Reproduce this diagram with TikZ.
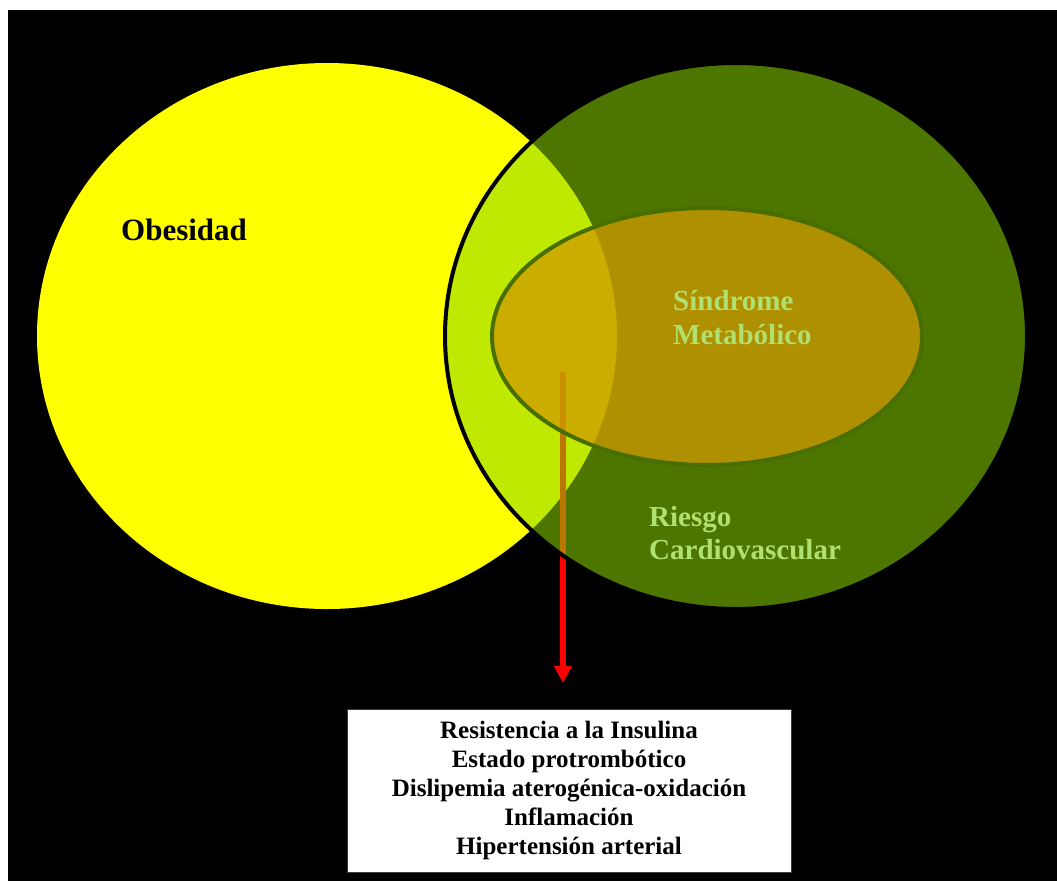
\documentclass[tikz,border=0pt]{standalone}
\usepackage{fontspec}
\setmainfont{Liberation Serif}
\usetikzlibrary{arrows.meta}
\definecolor{bgblack}{RGB}{0,0,0}
\definecolor{obyellow}{RGB}{255,255,0}
\definecolor{riskgreen}{RGB}{140,215,0}
\definecolor{smorange}{RGB}{208,154,0}
\definecolor{smline}{RGB}{72,110,0}
\definecolor{labgreen}{RGB}{176,224,112}
\definecolor{arrowred}{RGB}{255,0,0}
\tikzset{
  bigtext/.style={font=\fontsize{29}{33}\selectfont\bfseries, text=labgreen, anchor=base west, inner sep=0pt},
  obtext/.style={font=\fontsize{31}{35}\selectfont\bfseries, text=black, anchor=base west, inner sep=0pt},
  listbox/.style={draw={rgb,255:red,60;green,60;blue,60}, line width=1pt, fill=white, minimum width=444pt, minimum height=163pt, align=center, inner sep=0pt, font=\fontsize{25}{29.2}\selectfont\bfseries},
  redarrow/.style={draw=arrowred, line width=6pt, -{Triangle[width=17pt,length=17pt]}}
}
\begin{document}
\begin{tikzpicture}[x=1pt,y=-1pt]
\useasboundingbox (0,0) rectangle (1057,881);
\fill[white] (0,0) rectangle (1057,881);
\fill[bgblack] (8,10) rectangle (1057,881);
% Obesidad
\fill[obyellow] (327,336) ellipse [x radius=290, y radius=273];
% arrow (beneath green layers)
\coordinate (arrowstart) at (563,372);
\coordinate (arrowend) at (563,683);
\draw[redarrow] (arrowstart) -- (arrowend);
% Riesgo cardiovascular
\fill[riskgreen, fill opacity=0.55] (736,336) ellipse [x radius=291, y radius=273];
\draw[black, line width=4pt] (736,336) ellipse [x radius=291, y radius=273];
% Sindrome metabolico
\fill[smorange, fill opacity=0.75] (707,336.5) ellipse [x radius=215, y radius=128.5];
\draw[smline, line width=4pt] (707,336.5) ellipse [x radius=215, y radius=128.5];
% labels
\node[obtext] (obes) at (121,240) {Obesidad};
\node[bigtext] (sind1) at (673,310) {Síndrome};
\node[bigtext] (sind2) at (673,344) {Metabólico};
\node[bigtext] (ries1) at (649,526) {Riesgo};
\node[bigtext] (ries2) at (649,559) {Cardiovascular};
% box
\node[listbox] (box) at (569,790.5) {Resistencia a la Insulina\\Estado protrombótico\\Dislipemia aterogénica-oxidación\\Inflamación\\Hipertensión arterial};
\end{tikzpicture}
\end{document}
